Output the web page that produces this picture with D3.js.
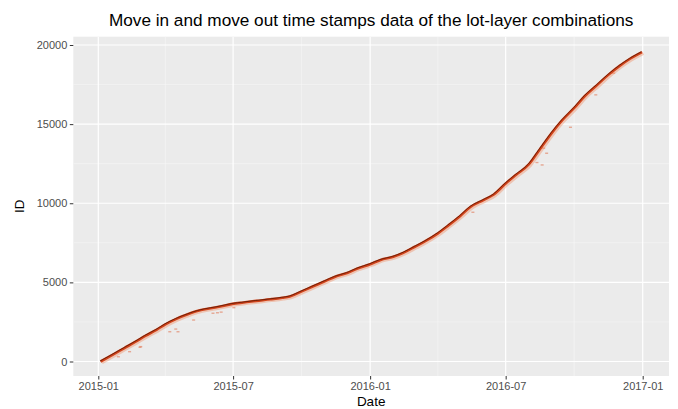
<!DOCTYPE html>
<html><head><meta charset="utf-8">
<script src="https://cdn.jsdelivr.net/npm/d3@7/dist/d3.min.js"></script>
<style>
html,body{margin:0;padding:0;background:#fff;}
svg{display:block;font-family:"Liberation Sans",Arial,sans-serif;}
</style></head>
<body>
<svg id="chart" width="678" height="409"></svg>
<script>
// ---- data ----
const moveInDates = ["2015-01-04","2015-01-20","2015-02-05","2015-02-20","2015-03-05","2015-03-20","2015-04-01","2015-04-15","2015-05-01","2015-05-15","2015-05-24","2015-06-10","2015-06-30","2015-07-15","2015-08-01","2015-08-20","2015-09-05","2015-09-15","2015-10-01","2015-10-15","2015-11-01","2015-11-15","2015-12-01","2015-12-15","2016-01-01","2016-01-15","2016-02-01","2016-02-15","2016-03-01","2016-03-15","2016-04-01","2016-04-15","2016-05-01","2016-05-15","2016-06-01","2016-06-15","2016-07-01","2016-07-15","2016-08-01","2016-08-15","2016-09-01","2016-09-15","2016-10-01","2016-10-15","2016-11-01","2016-11-15","2016-12-01","2016-12-15","2016-12-31"];
const moveInIDs = [0,420,850,1250,1620,2000,2350,2680,2980,3200,3300,3440,3640,3730,3830,3930,4030,4110,4430,4720,5070,5360,5590,5880,6150,6420,6620,6880,7250,7600,8100,8600,9200,9780,10200,10550,11250,11800,12450,13350,14450,15250,16020,16760,17480,18080,18680,19130,19550];
// scattered move-out outliers (date, ID)
const outlierDates = ["2015-01-28","2015-02-12","2015-02-26","2015-02-27","2015-04-07","2015-04-18","2015-04-15","2015-05-09","2015-06-04","2015-06-10","2015-06-15","2015-07-02","2016-05-18","2016-08-12","2016-08-19","2016-08-21","2016-08-25","2016-09-26","2016-10-30","2016-11-23"];
const outlierIDs = [300,620,900,940,1880,1880,2050,2620,3050,3080,3120,3400,9430,12570,12420,13480,13160,14800,16850,18220];

const xTickDates = ["2015-01-01","2015-07-01","2016-01-01","2016-07-01","2017-01-01"];
const xTickLabels = ["2015-01","2015-07","2016-01","2016-07","2017-01"];
const xMinorDates = ["2014-10-01","2015-04-01","2015-10-01","2016-04-01","2016-10-01","2017-04-01"];
const yTicks = [0,5000,10000,15000,20000];
const yMinor = [2500,7500,12500,17500];

const title = "Move in and move out time stamps data of the lot-layer combinations";
const xTitle = "Date", yTitle = "ID";

// ---- layout ----
const P = {left:73.3, right:669, top:36.7, bottom:376};
const parse = d3.utcParse("%Y-%m-%d");
const svg = d3.select("#chart");

const x = d3.scaleUtc()
  .domain([parse("2015-01-01"), parse("2017-01-01")])
  .range([98.3, 642.7]);
const y = d3.scaleLinear()
  .domain([0, 20000])
  .range([361.5, 45]);

// panel background
svg.append("rect").attr("x",P.left).attr("y",P.top)
  .attr("width",P.right-P.left).attr("height",P.bottom-P.top).attr("fill","#ebebeb");

svg.append("defs").append("clipPath").attr("id","clip")
  .append("rect").attr("x",P.left).attr("y",P.top)
  .attr("width",P.right-P.left).attr("height",P.bottom-P.top);

const grid = svg.append("g").attr("clip-path","url(#clip)");
// minor grid
grid.selectAll(".vmin").data(xMinorDates).join("line")
  .attr("x1",d=>x(parse(d))).attr("x2",d=>x(parse(d)))
  .attr("y1",P.top).attr("y2",P.bottom).attr("stroke","#f7f7f7").attr("stroke-width",0.6);
grid.selectAll(".hmin").data(yMinor).join("line")
  .attr("y1",d=>y(d)).attr("y2",d=>y(d))
  .attr("x1",P.left).attr("x2",P.right).attr("stroke","#f7f7f7").attr("stroke-width",0.6);
// major grid
grid.selectAll(".vmaj").data(xTickDates).join("line")
  .attr("x1",d=>x(parse(d))).attr("x2",d=>x(parse(d)))
  .attr("y1",P.top).attr("y2",P.bottom).attr("stroke","#ffffff").attr("stroke-width",1.2);
grid.selectAll(".hmaj").data(yTicks).join("line")
  .attr("y1",d=>y(d)).attr("y2",d=>y(d))
  .attr("x1",P.left).attr("x2",P.right).attr("stroke","#ffffff").attr("stroke-width",1.2);

// data
const pts = moveInDates.map((d,i)=>({date:parse(d), id:moveInIDs[i]}));
const outs = outlierDates.map((d,i)=>({date:parse(d), id:outlierIDs[i]}));
const line = d3.line().x(d=>x(d.date)).y(d=>y(d.id)).curve(d3.curveMonotoneX);
const marks = svg.append("g").attr("clip-path","url(#clip)");

marks.selectAll(".out").data(outs).join("rect")
  .attr("x",d=>x(d.date)-1.5).attr("y",d=>y(d.id)-0.7)
  .attr("width",3).attr("height",1.4).attr("fill","#e0704a").attr("opacity",0.55);

marks.append("path").datum(pts).attr("d",line)
  .attr("fill","none").attr("stroke","#f08a60").attr("stroke-width",3.6).attr("opacity",0.4)
  .attr("transform","translate(1.3,1)");
marks.append("path").datum(pts).attr("d",line)
  .attr("fill","none").attr("stroke","#d2441b").attr("stroke-width",2.6);
marks.append("path").datum(pts).attr("d",line)
  .attr("fill","none").attr("stroke","#4a1202").attr("stroke-width",0.9).attr("opacity",0.8)
  .attr("transform","translate(-0.5,-0.4)");

// axes
const xAxis = d3.axisBottom(x)
  .tickValues(xTickDates.map(parse))
  .tickFormat((d,i)=>xTickLabels[i]).tickSize(3.5).tickPadding(2.5);
const gx = svg.append("g").attr("transform",`translate(0,${P.bottom})`).call(xAxis);
const yAxis = d3.axisLeft(y).tickValues(yTicks).tickFormat(d3.format("d")).tickSize(3.5).tickPadding(2.5);
const gy = svg.append("g").attr("transform",`translate(${P.left},0)`).call(yAxis);
[gx,gy].forEach(g=>{
  g.select(".domain").remove();
  g.selectAll(".tick line").attr("stroke","#333333").attr("stroke-width",1);
  g.selectAll(".tick text").attr("fill","#4d4d4d").style("font-size","11px")
   .style("font-family","'Liberation Sans',Arial,sans-serif");
});

// titles
svg.append("text").attr("x",(P.left+P.right)/2).attr("y",26)
  .attr("text-anchor","middle").attr("fill","#000").style("font-size","17.2px").text(title);
svg.append("text").attr("x",(P.left+P.right)/2).attr("y",406)
  .attr("text-anchor","middle").attr("fill","#000").style("font-size","13.5px").text(xTitle);
svg.append("text").attr("transform",`translate(24,${(P.top+P.bottom)/2}) rotate(-90)`)
  .attr("text-anchor","middle").attr("fill","#000").style("font-size","13.5px").text(yTitle);
</script>
</body></html>
